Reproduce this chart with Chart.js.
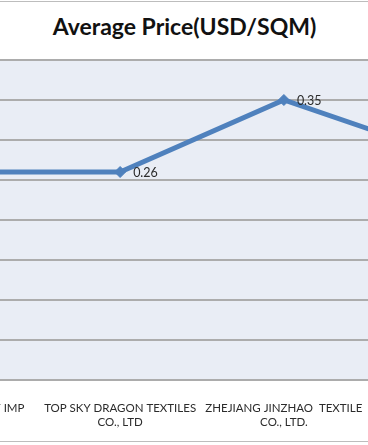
<!DOCTYPE html>
<html>
<head>
<meta charset="utf-8">
<script src="https://cdn.jsdelivr.net/npm/chart.js@4.4.0/dist/chart.umd.min.js"></script>
<style>
  html, body { margin: 0; padding: 0; background: #fff; }
  #frame { position: relative; width: 368px; height: 445px; overflow: hidden; background: #fff; }
  #title { position: absolute; top: 12px; left: 0; width: 369px; text-align: center; line-height: 28px;
           font-family: Lato, sans-serif; font-weight: bold; font-size: 23px; color: #111; }
  #wrap { position: absolute; left: -132px; top: 0; width: 668px; height: 445px; }
  .rule { position: absolute; left: 0; width: 368px; height: 1px; background: #bdbdbd; }
</style>
</head>
<body>
<div id="frame">
  <div class="rule" style="top:1px"></div>
  <div id="title">Average Price(USD/SQM)</div>
  <div id="wrap"><canvas id="priceChart" width="668" height="445"></canvas></div>
  <div class="rule" style="top:441px"></div>
</div>
<script>
// data (first and last suppliers are mostly cropped out)
const suppliers = [
  ['SHAOXING YUE CITY IMP', '& EXP CO.'],
  ['TOP SKY DRAGON TEXTILES', 'CO., LTD'],
  ['ZHEJIANG JINZHAO  TEXTILE', 'CO., LTD.'],
  ['SHAOXING HUAJIE TEXTILE', 'CO., LTD']
];
const avgPrice = [0.26, 0.26, 0.35, 0.28];
const yTicks = [0, 0.05, 0.1, 0.15, 0.2, 0.25, 0.3, 0.35, 0.4];

const plotBg = {
  id: 'plotBg',
  beforeDraw(chart) {
    const { ctx, chartArea: a } = chart;
    ctx.save();
    ctx.fillStyle = '#e9edf5';
    ctx.fillRect(a.left, a.top, a.right - a.left, a.bottom - a.top);
    ctx.restore();
  }
};

const valueLabels = {
  id: 'valueLabels',
  afterDatasetsDraw(chart) {
    const ctx = chart.ctx;
    const meta = chart.getDatasetMeta(0);
    ctx.save();
    ctx.font = '12.5px Lato, sans-serif';
    ctx.fillStyle = '#2b2b2b';
    ctx.textAlign = 'left';
    ctx.textBaseline = 'middle';
    meta.data.forEach((pt, i) => {
      ctx.fillText(avgPrice[i].toFixed(2), pt.x + 13, pt.y + 1);
    });
    ctx.restore();
  }
};

new Chart(document.getElementById('priceChart'), {
  type: 'line',
  data: {
    labels: suppliers,
    datasets: [{
      label: 'Average Price',
      data: avgPrice,
      borderColor: '#4f81bd',
      backgroundColor: '#4f81bd',
      borderWidth: 5,
      pointStyle: 'rectRot',
      pointRadius: 5.5,
      pointBorderWidth: 1,
      tension: 0
    }]
  },
  options: {
    responsive: false,
    animation: false,
    devicePixelRatio: 1,
    layout: { padding: { top: 60, left: 0, right: 0, bottom: 0 } },
    plugins: { legend: { display: false }, tooltip: { enabled: false } },
    scales: {
      x: {
        offset: true,
        grid: { display: false },
        border: { display: true, color: '#acacac', width: 2 },
        ticks: {
          autoSkip: false, maxRotation: 0, padding: 13,
          color: '#2b2b2b',
          font: { family: 'Lato, sans-serif', size: 11.5, lineHeight: 1.22 }
        },
        afterFit(scale) { scale.height = 65; }
      },
      y: {
        min: 0, max: 0.4,
        afterBuildTicks(scale) { scale.ticks = yTicks.map(v => ({ value: v })); },
        ticks: { display: false },
        border: { display: false },
        grid: { color: '#acacac', lineWidth: 2, drawTicks: false }
      }
    }
  },
  plugins: [plotBg, valueLabels]
});
</script>
</body>
</html>
